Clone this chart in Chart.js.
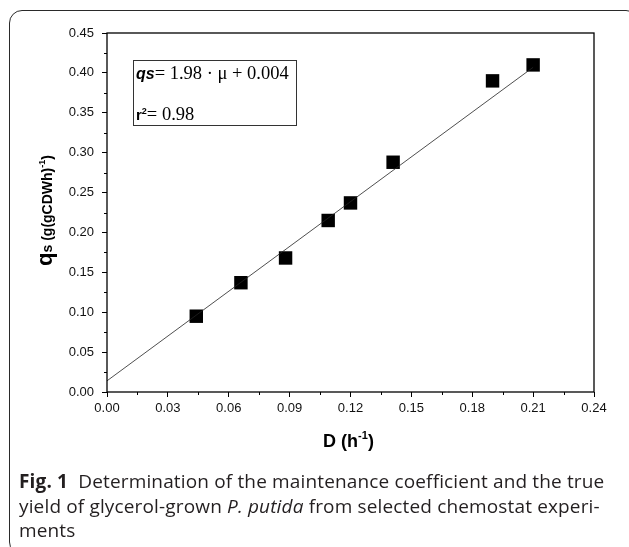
<!DOCTYPE html>
<html>
<head>
<meta charset="utf-8">
<script src="https://cdn.jsdelivr.net/npm/chart.js@4.4.1/dist/chart.umd.min.js"></script>
<style>
  html, body { margin: 0; padding: 0; background: #fff; }
  body { width: 629px; height: 547px; position: relative; overflow: hidden; }
  #frame {
    position: absolute; left: 9px; top: 10px; width: 630px; height: 545px;
    border: 1.4px solid #2a2a2a; border-radius: 13px; box-sizing: border-box;
  }
  #chart { position: absolute; left: 0; top: 0; }
  #caption {
    position: absolute; left: 19px; top: 469px;
    font-family: "Open Sans", sans-serif; font-size: 19px; line-height: 24.5px;
    color: #231f20; letter-spacing: 0.15px; white-space: nowrap;
  }
  #caption b { font-weight: 700; }
</style>
</head>
<body>
<div id="frame"></div>
<canvas id="chart" width="629" height="547"></canvas>
<div id="caption"><b>Fig. 1</b>&nbsp;&nbsp;Determination of the maintenance coefficient and the true<br>yield of glycerol-grown <i>P. putida</i> from selected chemostat experi-<br>ments</div>
<script>
// measured points
const dilution = [0.044, 0.066, 0.088, 0.109, 0.120, 0.141, 0.190, 0.210];
const qsValues = [0.095, 0.137, 0.168, 0.215, 0.237, 0.288, 0.390, 0.410];

// fitted line end points as drawn
const fitX = [0.0, 0.210];
const fitY = [0.014, 0.407];

const xTicks = [0, 0.03, 0.06, 0.09, 0.12, 0.15, 0.18, 0.21, 0.24];
const yTicks = [0, 0.05, 0.10, 0.15, 0.20, 0.25, 0.30, 0.35, 0.40, 0.45];

const tickFont = { family: "'Liberation Sans', Arial, sans-serif", size: 13 };

const extras = {
    id: "extras",
    afterDraw(chart) {
        const ctx = chart.ctx;
        const area = chart.chartArea;
        const xs = chart.scales.x;
        const ys = chart.scales.y;

        ctx.save();
        // plot frame
        ctx.strokeStyle = "#000";
        ctx.lineWidth = 1.3;
        ctx.strokeRect(area.left, area.top, area.right - area.left, area.bottom - area.top);

        // minor ticks
        ctx.lineWidth = 1;
        ctx.beginPath();
        for (let i = 0; i < xTicks.length - 1; i++) {
            const px = Math.round(xs.getPixelForValue((xTicks[i] + xTicks[i + 1]) / 2)) + 0.5;
            ctx.moveTo(px, area.bottom);
            ctx.lineTo(px, area.bottom + 3);
        }
        for (let i = 0; i < yTicks.length - 1; i++) {
            const py = Math.round(ys.getPixelForValue((yTicks[i] + yTicks[i + 1]) / 2)) + 0.5;
            ctx.moveTo(area.left, py);
            ctx.lineTo(area.left - 3, py);
        }
        ctx.stroke();

        // equation box
        const bx = area.left + 26, by = area.top + 27, bw = 163, bh = 65;
        ctx.fillStyle = "#fff";
        ctx.fillRect(bx, by, bw, bh);
        ctx.strokeStyle = "#333";
        ctx.lineWidth = 1;
        ctx.strokeRect(bx + 0.5, by + 0.5, bw, bh);

        ctx.fillStyle = "#000";
        ctx.textBaseline = "alphabetic";
        ctx.textAlign = "left";
        let tx = bx + 3;
        ctx.font = "italic bold 16px 'Liberation Sans', Arial";
        ctx.fillText("qs", tx, by + 19);
        tx += ctx.measureText("qs").width;
        ctx.font = "18.5px 'Liberation Serif', serif";
        ctx.fillText("= 1.98 \u00b7 \u03bc + 0.004", tx, by + 19);

        tx = bx + 3;
        ctx.font = "bold 15px 'Liberation Sans', Arial";
        ctx.fillText("r", tx, by + 60);
        tx += ctx.measureText("r").width;
        ctx.font = "bold 9px 'Liberation Sans', Arial";
        ctx.fillText("2", tx, by + 54);
        tx += ctx.measureText("2").width;
        ctx.font = "18.5px 'Liberation Serif', serif";
        ctx.fillText("= 0.98", tx, by + 60);

        // x title
        const xParts = [
            { t: "D (h", f: "bold 18px 'Liberation Sans', Arial", dy: 0 },
            { t: "-1", f: "bold 11px 'Liberation Sans', Arial", dy: -8 },
            { t: ")", f: "bold 18px 'Liberation Sans', Arial", dy: 0 }
        ];
        drawParts(ctx, xParts, (area.left + area.right) / 2 - 2, 447);

        // y title
        ctx.translate(52, (area.top + area.bottom) / 2 - 2);
        ctx.rotate(-Math.PI / 2);
        const yParts = [
            { t: "q", f: "bold 22px 'Liberation Sans', Arial", dy: 0 },
            { t: "s (g(gCDWh)", f: "bold 14px 'Liberation Sans', Arial", dy: 0 },
            { t: "-1", f: "bold 9px 'Liberation Sans', Arial", dy: -7 },
            { t: ")", f: "bold 14px 'Liberation Sans', Arial", dy: 0 }
        ];
        drawParts(ctx, yParts, 0, 0);
        ctx.restore();
    }
};

function drawParts(ctx, parts, cx, baseY) {
    let total = 0;
    parts.forEach(p => { ctx.font = p.f; total += ctx.measureText(p.t).width; });
    let x = cx - total / 2;
    ctx.textAlign = "left";
    ctx.textBaseline = "alphabetic";
    ctx.fillStyle = "#000";
    parts.forEach(p => {
        ctx.font = p.f;
        ctx.fillText(p.t, x, baseY + p.dy);
        x += ctx.measureText(p.t).width;
    });
}

new Chart(document.getElementById("chart"), {
    type: "scatter",
    data: {
        datasets: [
            {
                type: "line",
                data: fitX.map((x, i) => ({ x, y: fitY[i] })),
                borderColor: "#222",
                borderWidth: 0.8,
                pointRadius: 0,
                fill: false
            },
            {
                data: dilution.map((x, i) => ({ x, y: qsValues[i] })),
                pointStyle: "rect",
                pointRadius: 9.5,
                pointHoverRadius: 9.5,
                backgroundColor: "#000",
                borderColor: "#000",
                borderWidth: 0
            }
        ]
    },
    options: {
        responsive: false,
        animation: false,
        events: [],
        layout: { padding: { top: 33, right: 35, left: 0, bottom: 0 } },
        plugins: { legend: { display: false }, tooltip: { enabled: false } },
        scales: {
            x: {
                type: "linear",
                min: 0,
                max: 0.24,
                afterBuildTicks: s => { s.ticks = xTicks.map(v => ({ value: v })); },
                afterFit: s => { s.height = 155; },
                ticks: { font: tickFont, color: "#111", padding: 4, callback: v => v.toFixed(2), maxRotation: 0, autoSkip: false },
                grid: { drawOnChartArea: false, drawTicks: true, tickLength: 5, color: "#000", lineWidth: 1 },
                border: { display: false }
            },
            y: {
                type: "linear",
                min: 0,
                max: 0.45,
                afterBuildTicks: s => { s.ticks = yTicks.map(v => ({ value: v })); },
                afterFit: s => { s.width = 107; },
                ticks: { font: tickFont, color: "#111", padding: 8, callback: v => v.toFixed(2), autoSkip: false },
                grid: { drawOnChartArea: false, drawTicks: true, tickLength: 5, color: "#000", lineWidth: 1 },
                border: { display: false }
            }
        }
    },
    plugins: [extras]
});
</script>
</body>
</html>
